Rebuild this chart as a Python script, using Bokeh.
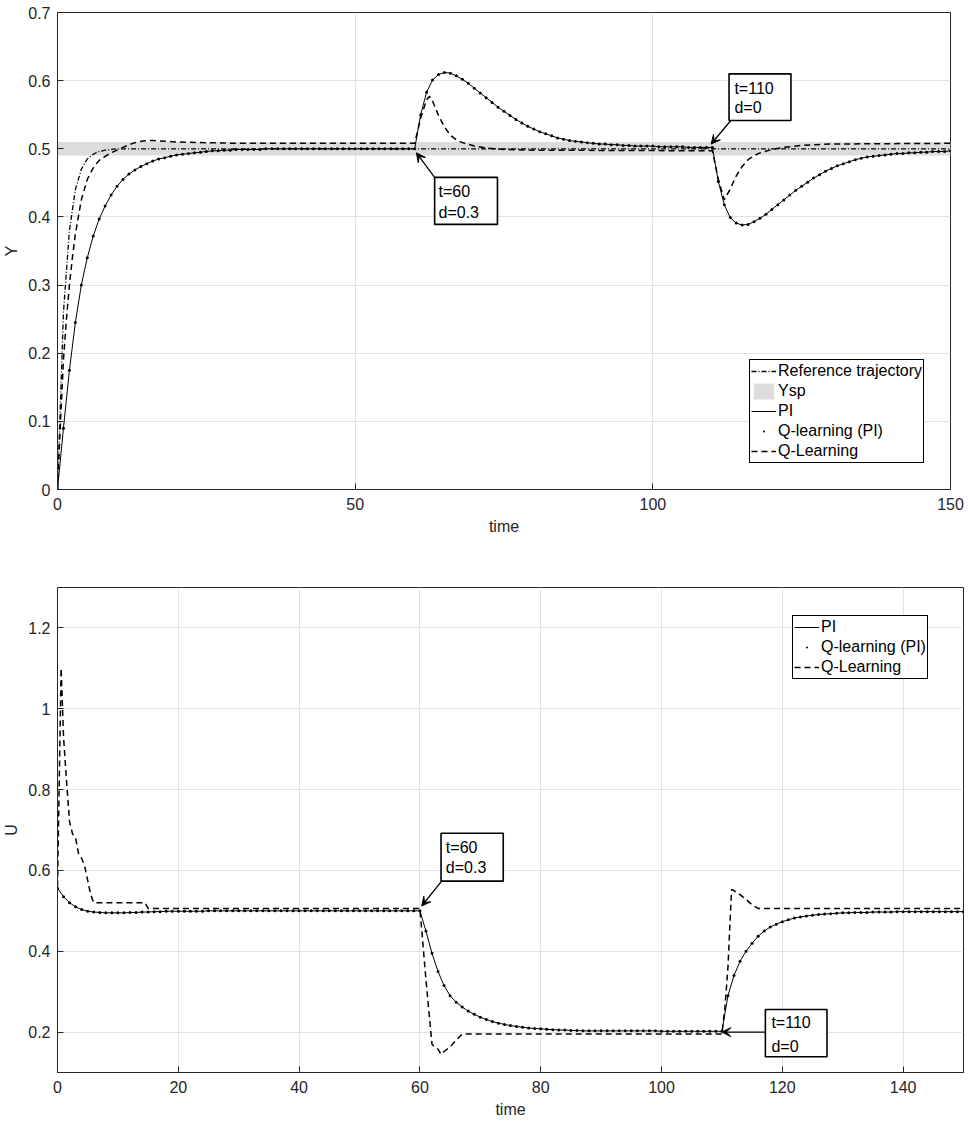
from bokeh.plotting import figure
from bokeh.models import (Range1d, FixedTicker, PrintfTickFormatter, Legend, LegendItem,
                          BoxAnnotation, Label, Arrow, VeeHead)
from bokeh.embed import file_html
from bokeh.resources import INLINE

FONT = "Liberation Sans"
DARK = "#262626"

# ---------------- data ----------------
t = list(range(151))

pi_y = [
    0.0, 0.09, 0.175, 0.245, 0.30, 0.34, 0.372, 0.397, 0.416, 0.432,
    0.445, 0.455, 0.463, 0.469, 0.474, 0.478, 0.482, 0.485, 0.487, 0.489,
    0.491, 0.492, 0.493, 0.494, 0.495, 0.496, 0.497, 0.497, 0.498, 0.498,
    0.499, 0.499, 0.499, 0.499, 0.499, 0.5, 0.5, 0.5, 0.5, 0.5,
    0.5, 0.5, 0.5, 0.5, 0.5, 0.5, 0.5, 0.5, 0.5, 0.5,
    0.5, 0.5, 0.5, 0.5, 0.5, 0.5, 0.5, 0.5, 0.5, 0.5,
    0.5, 0.55, 0.583, 0.601, 0.609, 0.612, 0.611, 0.607, 0.602, 0.596,
    0.589, 0.582, 0.575, 0.568, 0.561, 0.555, 0.549, 0.543, 0.538, 0.533,
    0.529, 0.525, 0.522, 0.519, 0.516, 0.514, 0.512, 0.511, 0.51, 0.509,
    0.508, 0.507, 0.507, 0.506, 0.506, 0.505, 0.505, 0.504, 0.504, 0.504,
    0.504, 0.503, 0.503, 0.503, 0.503, 0.503, 0.502, 0.502, 0.502, 0.502,
    0.502, 0.452, 0.418, 0.399, 0.391, 0.388, 0.389, 0.393, 0.398, 0.404,
    0.411, 0.418, 0.425, 0.432, 0.439, 0.445, 0.451, 0.457, 0.462, 0.467,
    0.471, 0.475, 0.478, 0.481, 0.484, 0.486, 0.488, 0.489, 0.49, 0.491,
    0.492, 0.493, 0.493, 0.494, 0.494, 0.495, 0.495, 0.496, 0.496, 0.496,
    0.497,
]
# Q-learning (PI) coincides with PI in the picture
qpi_y = list(pi_y)

ref_t = [0, 1, 2, 3, 4, 5, 6, 7, 8, 10, 12, 150]
ref_y = [0.0, 0.26, 0.38, 0.44, 0.47, 0.485, 0.492, 0.496, 0.498, 0.5, 0.5, 0.5]

ysp_t = [0, 150]
ysp_lo = [0.49, 0.49]
ysp_hi = [0.51, 0.51]

ql_t = [0, 0.5, 1, 1.5, 2, 2.5, 3, 4, 5, 6, 7, 8, 9, 10, 11, 12, 13, 14, 15, 16, 18, 20, 25, 30, 60,
        61, 62, 62.5, 63, 64, 65, 66, 67, 68, 70, 72, 75, 80, 110,
        111, 112, 113, 114, 115, 116, 117, 118, 120, 122, 125, 130, 150]
ql_y = [0.0, 0.1, 0.19, 0.25, 0.3, 0.34, 0.375, 0.425, 0.455, 0.472, 0.483, 0.489, 0.494, 0.498,
        0.502, 0.506, 0.509, 0.511, 0.512, 0.512, 0.511, 0.51, 0.509, 0.508, 0.508,
        0.545, 0.572, 0.577, 0.57, 0.549, 0.532, 0.52, 0.513, 0.509, 0.504, 0.501, 0.499, 0.498, 0.497,
        0.455, 0.425, 0.441, 0.46, 0.474, 0.484, 0.49, 0.494, 0.499, 0.502, 0.505, 0.507, 0.508]

pi_u = [
    0.556, 0.535, 0.52, 0.51, 0.503, 0.499, 0.497, 0.496, 0.495, 0.495,
    0.495, 0.495, 0.496, 0.496, 0.497, 0.497, 0.498, 0.498, 0.499, 0.499,
    0.499, 0.499, 0.499, 0.499, 0.499, 0.5, 0.5, 0.5, 0.5, 0.5,
    0.5, 0.5, 0.5, 0.5, 0.5, 0.5, 0.5, 0.5, 0.5, 0.5,
    0.5, 0.5, 0.5, 0.5, 0.5, 0.5, 0.5, 0.5, 0.5, 0.5,
    0.5, 0.5, 0.5, 0.5, 0.5, 0.5, 0.5, 0.5, 0.5, 0.5,
    0.5, 0.45, 0.395, 0.35, 0.315, 0.29, 0.274, 0.262, 0.252, 0.244,
    0.237, 0.231, 0.226, 0.222, 0.219, 0.216, 0.214, 0.212, 0.21, 0.209,
    0.208, 0.207, 0.206, 0.205, 0.205, 0.204, 0.204, 0.203, 0.203, 0.203,
    0.203, 0.203, 0.203, 0.203, 0.203, 0.203, 0.203, 0.203, 0.203, 0.203,
    0.202, 0.202, 0.202, 0.202, 0.202, 0.202, 0.202, 0.202, 0.202, 0.202,
    0.202, 0.29, 0.34, 0.375, 0.40, 0.42, 0.437, 0.45, 0.46, 0.467,
    0.473, 0.478, 0.482, 0.485, 0.487, 0.489, 0.491, 0.492, 0.493, 0.494,
    0.495, 0.495, 0.496, 0.496, 0.496, 0.497, 0.497, 0.497, 0.497, 0.498,
    0.498, 0.498, 0.498, 0.498, 0.498, 0.498, 0.498, 0.498, 0.498, 0.498,
    0.498,
]
qpi_u = list(pi_u)

qlu_t = [0, 0.6, 1, 1.5, 2, 2.5, 3, 3.5, 4, 4.5, 5, 5.5, 6, 14.5, 15, 60,
         61, 61.5, 62, 62.5, 63, 63.5, 64, 65, 66, 67, 110,
         110.5, 111, 111.6, 112, 113, 114, 115, 116, 150]
qlu_u = [0.56, 1.1, 0.93, 0.82, 0.72, 0.69, 0.68, 0.64, 0.63, 0.61, 0.575, 0.54, 0.52, 0.52, 0.506, 0.506,
         0.33, 0.25, 0.17, 0.162, 0.158, 0.145, 0.152, 0.163, 0.18, 0.195, 0.195,
         0.26, 0.36, 0.553, 0.55, 0.54, 0.528, 0.515, 0.506, 0.506]

top_xticks = [0, 50, 100, 150]
top_yticks = [0, 0.1, 0.2, 0.3, 0.4, 0.5, 0.6, 0.7]
bot_xticks = [0, 20, 40, 60, 80, 100, 120, 140]
bot_yticks = [0.2, 0.4, 0.6, 0.8, 1.0, 1.2]


def make_fig(h, xr, yr, xt, yt, borders, ylabel):
    l, r, tp, b = borders
    p = figure(width=968, height=h, x_range=Range1d(*xr), y_range=Range1d(*yr),
               output_backend="svg", toolbar_location=None,
               min_border_left=l, min_border_right=r, min_border_top=tp, min_border_bottom=b)
    p.background_fill_color = "white"
    p.border_fill_color = "white"
    p.outline_line_color = DARK
    p.outline_line_width = 1
    for ax in (p.xaxis[0], p.yaxis[0]):
        ax.major_label_text_font = FONT
        ax.major_label_text_font_size = "16px"
        ax.major_label_text_color = DARK
        ax.axis_label_text_font = FONT
        ax.axis_label_text_font_size = "16px"
        ax.axis_label_text_font_style = "normal"
        ax.axis_label_text_color = DARK
        ax.axis_line_color = DARK
        ax.major_tick_line_color = DARK
        ax.major_tick_in = 6
        ax.major_tick_out = 0
        ax.minor_tick_line_color = None
        ax.formatter = PrintfTickFormatter(format="%g")
    p.xaxis[0].ticker = FixedTicker(ticks=xt)
    p.yaxis[0].ticker = FixedTicker(ticks=yt)
    p.xaxis[0].major_label_standoff = 8
    p.yaxis[0].major_label_standoff = 7
    p.xaxis[0].axis_label = "time"
    p.yaxis[0].axis_label = ylabel
    p.xaxis[0].axis_label_standoff = 5
    p.yaxis[0].axis_label_standoff = 5
    p.xgrid[0].ticker = FixedTicker(ticks=xt)
    p.ygrid[0].ticker = FixedTicker(ticks=yt)
    p.grid.grid_line_color = "#e2e2e2"
    p.grid.grid_line_width = 1
    return p


def add_box(p, left, right, top, bottom, lines, text_x, text_ys, arrow):
    p.add_layout(BoxAnnotation(left=left, right=right, top=top, bottom=bottom,
                               fill_color="white", fill_alpha=1.0,
                               line_color="black", line_alpha=1.0, line_width=1.6))
    for txt, ty in zip(lines, text_ys):
        p.add_layout(Label(x=text_x, y=ty, text=txt, text_font=FONT, text_font_size="16px",
                           text_color="black", text_baseline="middle", text_align="left"))
    xs, ys, xe, ye = arrow
    p.add_layout(Arrow(end=VeeHead(size=9, fill_color="black", line_color="black", line_width=1),
                       x_start=xs, y_start=ys, x_end=xe, y_end=ye,
                       line_color="black", line_width=1.3))


def make_legend(items, loc):
    return Legend(items=items, location=loc, orientation="vertical",
                  border_line_color="black", border_line_width=1, border_line_alpha=1.0,
                  background_fill_color="white", background_fill_alpha=1.0,
                  label_text_font=FONT, label_text_font_size="16px", label_text_color="black",
                  glyph_width=25, glyph_height=20, label_height=20, spacing=0,
                  padding=1, margin=0, label_standoff=2)


# ---------------- top plot ----------------
p1 = make_fig(545, (0, 150), (0, 0.7), top_xticks, top_yticks, (55, 18, 12, 56), "Y")
r_band = p1.varea(x=ysp_t, y1=ysp_lo, y2=ysp_hi, fill_color="#dcdcdc", fill_alpha=1.0)
r_ref = p1.line(ref_t, ref_y, line_color="black", line_dash="5 2 1 2", line_width=1.3)
r_pi = p1.line(t, pi_y, line_color="black", line_width=1)
r_qpi = p1.scatter(t, qpi_y, size=12, marker="dot", line_color="black", fill_color="black")
r_ql = p1.line(ql_t, ql_y, line_color="black", line_dash="6 4", line_width=1.5)

add_box(p1, 63.35, 73.9, 0.458, 0.389, ["t=60", "d=0.3"], 64.0, [0.437, 0.4065],
        (63.35, 0.458, 60.3, 0.494))
add_box(p1, 112.8, 123.2, 0.610, 0.5415, ["t=110", "d=0"], 113.7, [0.589, 0.5606],
        (113.1, 0.5415, 109.8, 0.507))

leg1 = make_legend([
    LegendItem(label="Reference trajectory", renderers=[r_ref]),
    LegendItem(label="Ysp", renderers=[r_band]),
    LegendItem(label="PI", renderers=[r_pi]),
    LegendItem(label="Q-learning (PI)", renderers=[r_qpi]),
    LegendItem(label="Q-Learning", renderers=[r_ql]),
], (692, 26))
p1.add_layout(leg1)

# ---------------- bottom plot ----------------
p2 = make_fig(577, (0, 150), (0.1, 1.3), bot_xticks, bot_yticks, (57, 5, 42, 50), "U")
s_pi = p2.line(t, pi_u, line_color="black", line_width=1)
s_qpi = p2.scatter(t, qpi_u, size=12, marker="dot", line_color="black", fill_color="black")
s_ql = p2.line(qlu_t, qlu_u, line_color="black", line_dash="6 4", line_width=1.5)

add_box(p2, 63.5, 73.8, 0.692, 0.5736, ["t=60", "d=0.3"], 64.3, [0.657, 0.606],
        (63.6, 0.5736, 60.3, 0.512))
add_box(p2, 117.2, 127.4, 0.256, 0.139, ["t=110", "d=0"], 118.2, [0.2235, 0.165],
        (117.2, 0.2, 110.0, 0.2))

leg2 = make_legend([
    LegendItem(label="PI", renderers=[s_pi]),
    LegendItem(label="Q-learning (PI)", renderers=[s_qpi]),
    LegendItem(label="Q-Learning", renderers=[s_ql]),
], (735, 393))
p2.add_layout(leg2)

# two independent roots, stacked in the page (keeps each frame's own borders)
p = [p1, p2]
open("out.html", "w").write(file_html(p, INLINE))
